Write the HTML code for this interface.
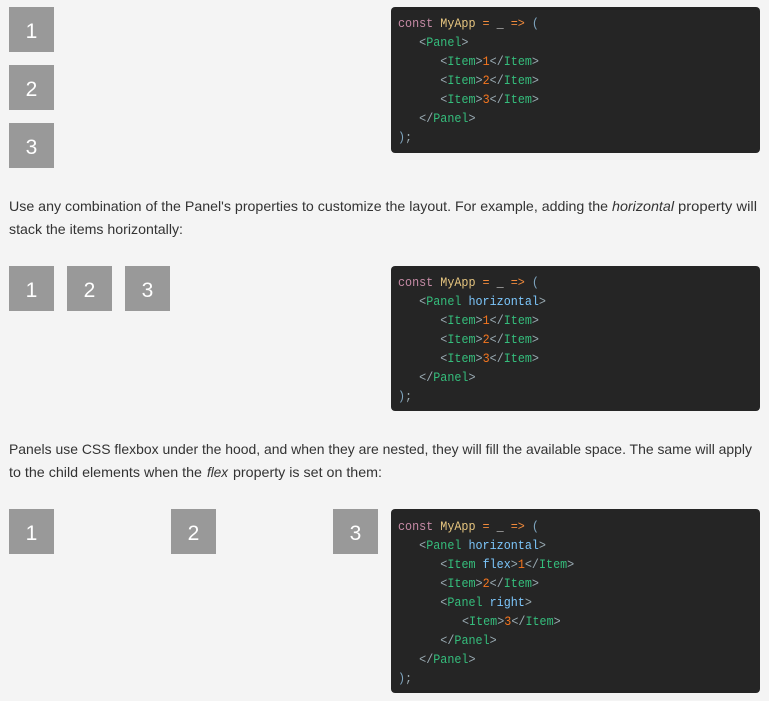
<!DOCTYPE html>
<html><head><meta charset="utf-8"><style>
html,body{margin:0;padding:0;background:#f4f4f4;width:769px;height:701px;overflow:hidden}
svg{display:block}
.p{font:14px "Liberation Sans",sans-serif;fill:#333}
.i{font-style:italic}
.n{font:21px "Liberation Sans",sans-serif;fill:#fff;text-anchor:middle}
.b{fill:#999}
.c{fill:#252525}
.m{font:13px "Liberation Mono",monospace;fill:#9aabb3;white-space:pre;stroke:currentColor;stroke-width:0}
.k{fill:#c58aa5}.a{fill:#e6c57f}.o{fill:#f08a3c}.w{fill:#ccc}.t{fill:#35bd7c}.f{fill:#7cc6fb}.d{fill:#f5761f}.br{fill:#7fa6c0}
</style></head><body>
<svg width="769" height="701" viewBox="0 0 769 701" xmlns="http://www.w3.org/2000/svg" xml:space="preserve">
<rect class="b" x="9" y="7" width="45" height="45"/><text class="n" x="31.5" y="38">1</text>
<rect class="b" x="9" y="65" width="45" height="45"/><text class="n" x="31.5" y="96">2</text>
<rect class="b" x="9" y="123" width="45" height="45"/><text class="n" x="31.5" y="154">3</text>

<rect class="b" x="9" y="266" width="45" height="45"/><text class="n" x="31.5" y="297">1</text>
<rect class="b" x="67" y="266" width="45" height="45"/><text class="n" x="89.5" y="297">2</text>
<rect class="b" x="125" y="266" width="45" height="45"/><text class="n" x="147.5" y="297">3</text>

<rect class="b" x="9" y="509" width="45" height="45"/><text class="n" x="31.5" y="540">1</text>
<rect class="b" x="171" y="509" width="45" height="45"/><text class="n" x="193.5" y="540">2</text>
<rect class="b" x="333" y="509" width="45" height="45"/><text class="n" x="355.5" y="540">3</text>

<text class="p" x="9" y="211" textLength="599" lengthAdjust="spacingAndGlyphs">Use any combination of the Panel's properties to customize the layout. For example, adding the</text>
<text class="p i" x="612" y="211" textLength="62" lengthAdjust="spacingAndGlyphs">horizontal</text>
<text class="p" x="678" y="211" textLength="79" lengthAdjust="spacingAndGlyphs">property will</text>
<text class="p" x="9" y="234" textLength="174" lengthAdjust="spacingAndGlyphs">stack the items horizontally:</text>

<text class="p" x="9" y="454" textLength="743" lengthAdjust="spacingAndGlyphs">Panels use CSS flexbox under the hood, and when they are nested, they will fill the available space. The same will apply</text>
<text class="p" x="9" y="477" textLength="193" lengthAdjust="spacingAndGlyphs">to the child elements when the</text>
<text class="p i" x="207" y="477" textLength="21" lengthAdjust="spacingAndGlyphs">flex</text>
<text class="p" x="233" y="477" textLength="149" lengthAdjust="spacingAndGlyphs">property is set on them:</text>

<rect class="c" x="391" y="7" width="369" height="146" rx="4"/>
<rect class="c" x="391" y="266" width="369" height="145" rx="4"/>
<rect class="c" x="391" y="509" width="369" height="184" rx="4"/>

<g transform="translate(398 0) scale(.904 1)">
<text class="m" x="0" y="27"><tspan class="k">const</tspan> <tspan class="a">MyApp</tspan> <tspan class="o">=</tspan> <tspan class="w">_</tspan> <tspan class="o">=&gt;</tspan> <tspan class="br">(</tspan></text>
<text class="m" x="23.4" y="46">&lt;<tspan class="t">Panel</tspan>&gt;</text>
<text class="m" x="46.8" y="65">&lt;<tspan class="t">Item</tspan>&gt;<tspan class="d">1</tspan>&lt;/<tspan class="t">Item</tspan>&gt;</text>
<text class="m" x="46.8" y="84">&lt;<tspan class="t">Item</tspan>&gt;<tspan class="d">2</tspan>&lt;/<tspan class="t">Item</tspan>&gt;</text>
<text class="m" x="46.8" y="103">&lt;<tspan class="t">Item</tspan>&gt;<tspan class="d">3</tspan>&lt;/<tspan class="t">Item</tspan>&gt;</text>
<text class="m" x="23.4" y="122">&lt;/<tspan class="t">Panel</tspan>&gt;</text>
<text class="m" x="0" y="141"><tspan class="br">)</tspan>;</text>

<text class="m" x="0" y="286"><tspan class="k">const</tspan> <tspan class="a">MyApp</tspan> <tspan class="o">=</tspan> <tspan class="w">_</tspan> <tspan class="o">=&gt;</tspan> <tspan class="br">(</tspan></text>
<text class="m" x="23.4" y="305">&lt;<tspan class="t">Panel</tspan> <tspan class="f">horizontal</tspan>&gt;</text>
<text class="m" x="46.8" y="324">&lt;<tspan class="t">Item</tspan>&gt;<tspan class="d">1</tspan>&lt;/<tspan class="t">Item</tspan>&gt;</text>
<text class="m" x="46.8" y="343">&lt;<tspan class="t">Item</tspan>&gt;<tspan class="d">2</tspan>&lt;/<tspan class="t">Item</tspan>&gt;</text>
<text class="m" x="46.8" y="362">&lt;<tspan class="t">Item</tspan>&gt;<tspan class="d">3</tspan>&lt;/<tspan class="t">Item</tspan>&gt;</text>
<text class="m" x="23.4" y="381">&lt;/<tspan class="t">Panel</tspan>&gt;</text>
<text class="m" x="0" y="400"><tspan class="br">)</tspan>;</text>

<text class="m" x="0" y="530"><tspan class="k">const</tspan> <tspan class="a">MyApp</tspan> <tspan class="o">=</tspan> <tspan class="w">_</tspan> <tspan class="o">=&gt;</tspan> <tspan class="br">(</tspan></text>
<text class="m" x="23.4" y="549">&lt;<tspan class="t">Panel</tspan> <tspan class="f">horizontal</tspan>&gt;</text>
<text class="m" x="46.8" y="568">&lt;<tspan class="t">Item</tspan> <tspan class="f">flex</tspan>&gt;<tspan class="d">1</tspan>&lt;/<tspan class="t">Item</tspan>&gt;</text>
<text class="m" x="46.8" y="587">&lt;<tspan class="t">Item</tspan>&gt;<tspan class="d">2</tspan>&lt;/<tspan class="t">Item</tspan>&gt;</text>
<text class="m" x="46.8" y="606">&lt;<tspan class="t">Panel</tspan> <tspan class="f">right</tspan>&gt;</text>
<text class="m" x="70.8" y="625">&lt;<tspan class="t">Item</tspan>&gt;<tspan class="d">3</tspan>&lt;/<tspan class="t">Item</tspan>&gt;</text>
<text class="m" x="46.8" y="644">&lt;/<tspan class="t">Panel</tspan>&gt;</text>
<text class="m" x="23.4" y="663">&lt;/<tspan class="t">Panel</tspan>&gt;</text>
<text class="m" x="0" y="682"><tspan class="br">)</tspan>;</text>
</g>
</svg>
</body></html>
